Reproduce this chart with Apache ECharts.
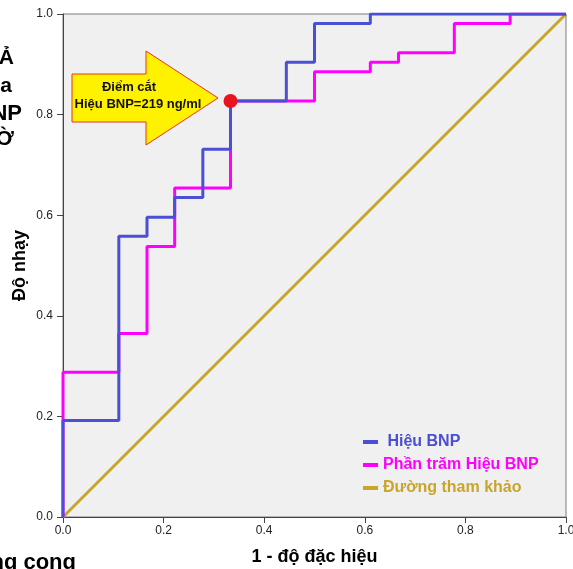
<!DOCTYPE html>
<html>
<head>
<meta charset="utf-8">
<script src="https://cdn.jsdelivr.net/npm/echarts@6/dist/echarts.min.js"></script>
<style>
  html, body { margin: 0; padding: 0; background: #fff; }
  #chart { width: 573px; height: 569px; }
</style>
</head>
<body>
<div id="chart"></div>
<script>
// ROC coordinates (1 - specificity, sensitivity)
var bnpX = [0, 0, 0.111, 0.111, 0.167, 0.167, 0.222, 0.222, 0.278, 0.278, 0.333, 0.333, 0.444, 0.444, 0.5, 0.5, 0.611, 0.611, 1];
var bnpY = [0, 0.192, 0.192, 0.558, 0.558, 0.596, 0.596, 0.635, 0.635, 0.731, 0.731, 0.827, 0.827, 0.904, 0.904, 0.981, 0.981, 1, 1];

var pctX = [0, 0, 0.111, 0.111, 0.167, 0.167, 0.222, 0.222, 0.333, 0.333, 0.5, 0.5, 0.611, 0.611, 0.667, 0.667, 0.778, 0.778, 0.889, 0.889, 1];
var pctY = [0, 0.288, 0.288, 0.365, 0.365, 0.538, 0.538, 0.654, 0.654, 0.827, 0.827, 0.885, 0.885, 0.904, 0.904, 0.923, 0.923, 0.981, 0.981, 1, 1];

var refX = [0, 1];
var refY = [0, 1];

var cutPoint = [0.333, 0.827];
var cutLabel = ['Điểm cắt', 'Hiệu BNP=219 ng/ml'];

var seriesNames = ['Hiệu BNP', 'Phần trăm Hiệu BNP', 'Đường tham khảo'];
var seriesColors = ['#4a4fd4', '#ff00ff', '#c9a52c'];

var FONT = 'Arial, "Liberation Sans", sans-serif';

function pairs(xs, ys) {
  return xs.map(function (x, i) { return [x, ys[i]]; });
}

var chart = echarts.init(document.getElementById('chart'));

chart.setOption({
  backgroundColor: '#ffffff',
  animation: false,
  grid: {
    left: 63, top: 14, right: 7, bottom: 52,
    outerBoundsMode: 'none',
    containLabel: false,
    show: true,
    backgroundColor: '#f0f0f0',
    borderColor: '#7a7a7a',
    borderWidth: 1
  },
  legend: {
    orient: 'vertical',
    left: 358,
    top: 429,
    itemWidth: 15,
    itemHeight: 4,
    itemGap: 7,
    icon: 'rect',
    selectedMode: false,
    formatter: function (name) {
      return name === seriesNames[0] ? ' ' + name : name;
    },
    textStyle: { fontFamily: FONT, fontSize: 16, fontWeight: 'bold' },
    data: seriesNames.map(function (n, i) {
      return { name: n, textStyle: { color: seriesColors[i] } };
    })
  },
  xAxis: {
    type: 'value',
    min: 0, max: 1, interval: 0.2,
    name: '1 - độ đặc hiệu',
    nameLocation: 'middle',
    nameGap: 31,
    nameTextStyle: { fontFamily: FONT, fontSize: 18, fontWeight: 'bold', color: '#000' },
    splitLine: { show: false },
    axisLine: { lineStyle: { color: '#444', width: 1 } },
    axisTick: { length: 6, lineStyle: { color: '#444' } },
    axisLabel: {
      margin: 8,
      fontFamily: FONT, fontSize: 12, color: '#222',
      formatter: function (v) { return v.toFixed(1); }
    }
  },
  yAxis: {
    type: 'value',
    min: 0, max: 1, interval: 0.2,
    name: 'Độ nhạy',
    nameLocation: 'middle',
    nameRotate: 90,
    nameGap: 34,
    nameMoveOverlap: false,
    nameTextStyle: { fontFamily: FONT, fontSize: 18, fontWeight: 'bold', color: '#000' },
    splitLine: { show: false },
    axisLine: { show: true, lineStyle: { color: '#444', width: 1 } },
    axisTick: { show: true, length: 6, lineStyle: { color: '#444' } },
    axisLabel: {
      margin: 10,
      fontFamily: FONT, fontSize: 12, color: '#222',
      formatter: function (v) { return v.toFixed(1); }
    }
  },
  series: [
    {
      name: seriesNames[2],
      type: 'line',
      data: pairs(refX, refY),
      symbol: 'none',
      color: seriesColors[2],
      lineStyle: { color: seriesColors[2], width: 3 },
      z: 1
    },
    {
      name: seriesNames[1],
      type: 'line',
      data: pairs(pctX, pctY),
      symbol: 'none',
      color: seriesColors[1],
      lineStyle: { color: seriesColors[1], width: 3 },
      z: 2
    },
    {
      name: seriesNames[0],
      type: 'line',
      data: pairs(bnpX, bnpY),
      symbol: 'none',
      color: seriesColors[0],
      lineStyle: { color: seriesColors[0], width: 3 },
      z: 3
    },
    {
      name: 'Điểm cắt',
      type: 'scatter',
      data: [cutPoint],
      symbol: 'circle',
      symbolSize: 14,
      itemStyle: { color: '#e8141e', opacity: 1 },
      z: 5
    }
  ],
  graphic: [
    // callout arrow pointing at the cut-off point
    {
      type: 'polygon',
      shape: { points: [[72, 74], [146, 74], [146, 51], [218, 98], [146, 145], [146, 122], [72, 122]] },
      style: { fill: '#fff200', stroke: '#e8332a', lineWidth: 1 },
      z: 10
    },
    {
      type: 'text', x: 129, y: 87, z: 11,
      style: { text: cutLabel[0], fontFamily: FONT, fontSize: 13, fontWeight: 'bold', fill: '#111', align: 'center', verticalAlign: 'middle' }
    },
    {
      type: 'text', x: 138, y: 104, z: 11,
      style: { text: cutLabel[1], fontFamily: FONT, fontSize: 13, fontWeight: 'bold', fill: '#111', align: 'center', verticalAlign: 'middle' }
    },
    // title fragments cut off at the page edges
    { type: 'text', x: 14, y: 58, style: { text: 'Ả', fontFamily: FONT, fontSize: 21, fontWeight: 'bold', fill: '#000', align: 'right', verticalAlign: 'middle' } },
    { type: 'text', x: 12, y: 86, style: { text: 'a', fontFamily: FONT, fontSize: 21, fontWeight: 'bold', fill: '#000', align: 'right', verticalAlign: 'middle' } },
    { type: 'text', x: 22, y: 114, style: { text: 'BNP', fontFamily: FONT, fontSize: 22, fontWeight: 'bold', fill: '#000', align: 'right', verticalAlign: 'middle' } },
    { type: 'text', x: 14, y: 139, style: { text: 'Ờ', fontFamily: FONT, fontSize: 21, fontWeight: 'bold', fill: '#000', align: 'right', verticalAlign: 'middle' } },
    { type: 'text', x: 76, y: 563, style: { text: 'Đường cong', fontFamily: FONT, fontSize: 22, fontWeight: 'bold', fill: '#000', align: 'right', verticalAlign: 'middle' } }
  ]
});
</script>
</body>
</html>
